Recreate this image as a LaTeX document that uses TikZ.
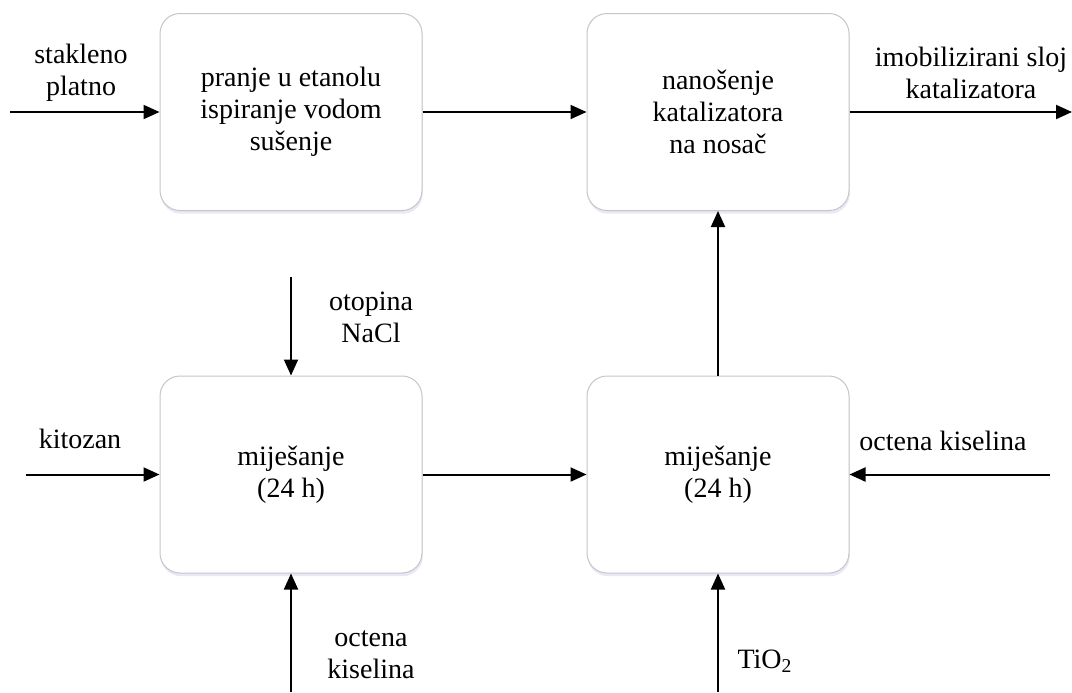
\documentclass[tikz,border=0pt]{standalone}
\usepackage{fontspec}
\setmainfont{Liberation Serif}
\usepackage{tikz}
\usetikzlibrary{arrows.meta, positioning, shadows}

\begin{document}
\begin{tikzpicture}[
  x=0.5pt, y=-0.5pt,
  every node/.style={font=\fontsize{14}{16}\selectfont},
  proc/.style={draw=gray!45, line width=0.5pt, fill=white, rounded corners=10pt,
               minimum width=131pt, minimum height=98.5pt, align=center,
               drop shadow={fill=cyan!25!blue!15, opacity=0.6,
                            shadow xshift=0.4pt, shadow yshift=-1.6pt}},
  lbl/.style={align=center, inner sep=0pt},
  arr/.style={-{Triangle[length=8pt, width=7pt]}, line width=1pt, black},
]
\useasboundingbox (0,0) rectangle (1072,692);

%% ---- process boxes ----
\node[proc] (wash)  at (291,112)   {pranje u etanolu\\ispiranje vodom\\sušenje};
\node[proc] (coat)  at (718,112)   {nanošenje\\katalizatora\\na nosač};
\node[proc] (mixA)  at (291,474.5) {miješanje\\(24 h)};
\node[proc] (mixB)  at (718,474.5) {miješanje\\(24 h)};

%% ---- free ends ----
\coordinate (glassIn) at (10,112);
\coordinate (layerOut) at (1072,112);
\coordinate (naclIn) at (291,277);
\coordinate (chitIn) at (26,474.5);
\coordinate (acidInA) at (291,692);
\coordinate (acidInB) at (1050,474.5);
\coordinate (tioIn) at (718,692);

%% ---- stream labels ----
\node[lbl] (glass) at (81,73)    {stakleno\\platno};
\node[lbl] (layer) at (971,73)   {imobilizirani sloj\\katalizatora};
\node[lbl] (nacl)  at (371,317)  {otopina\\NaCl};
\node[lbl] (chit)  at (80,439)   {kitozan};
\node[lbl] (acidA) at (371,655)  {octena\\kiselina};
\node[lbl] (acidB) at (943,441)  {octena kiselina};
\node[lbl] (tio)   at (765,661)  {TiO\textsubscript{2}};

%% ---- connectors ----
\draw[arr] (glassIn) -- (wash.west);
\draw[arr] (wash.east) -- (coat.west);
\draw[arr] (coat.east) -- (layerOut);
\draw[arr] (naclIn) -- (mixA.north);
\draw[arr] (chitIn) -- (mixA.west);
\draw[arr] (acidInA) -- (mixA.south);
\draw[arr] (mixA.east) -- (mixB.west);
\draw[arr] (acidInB) -- (mixB.east);
\draw[arr] (tioIn) -- (mixB.south);
\draw[arr] (mixB.north) -- (coat.south);

\end{tikzpicture}
\end{document}
